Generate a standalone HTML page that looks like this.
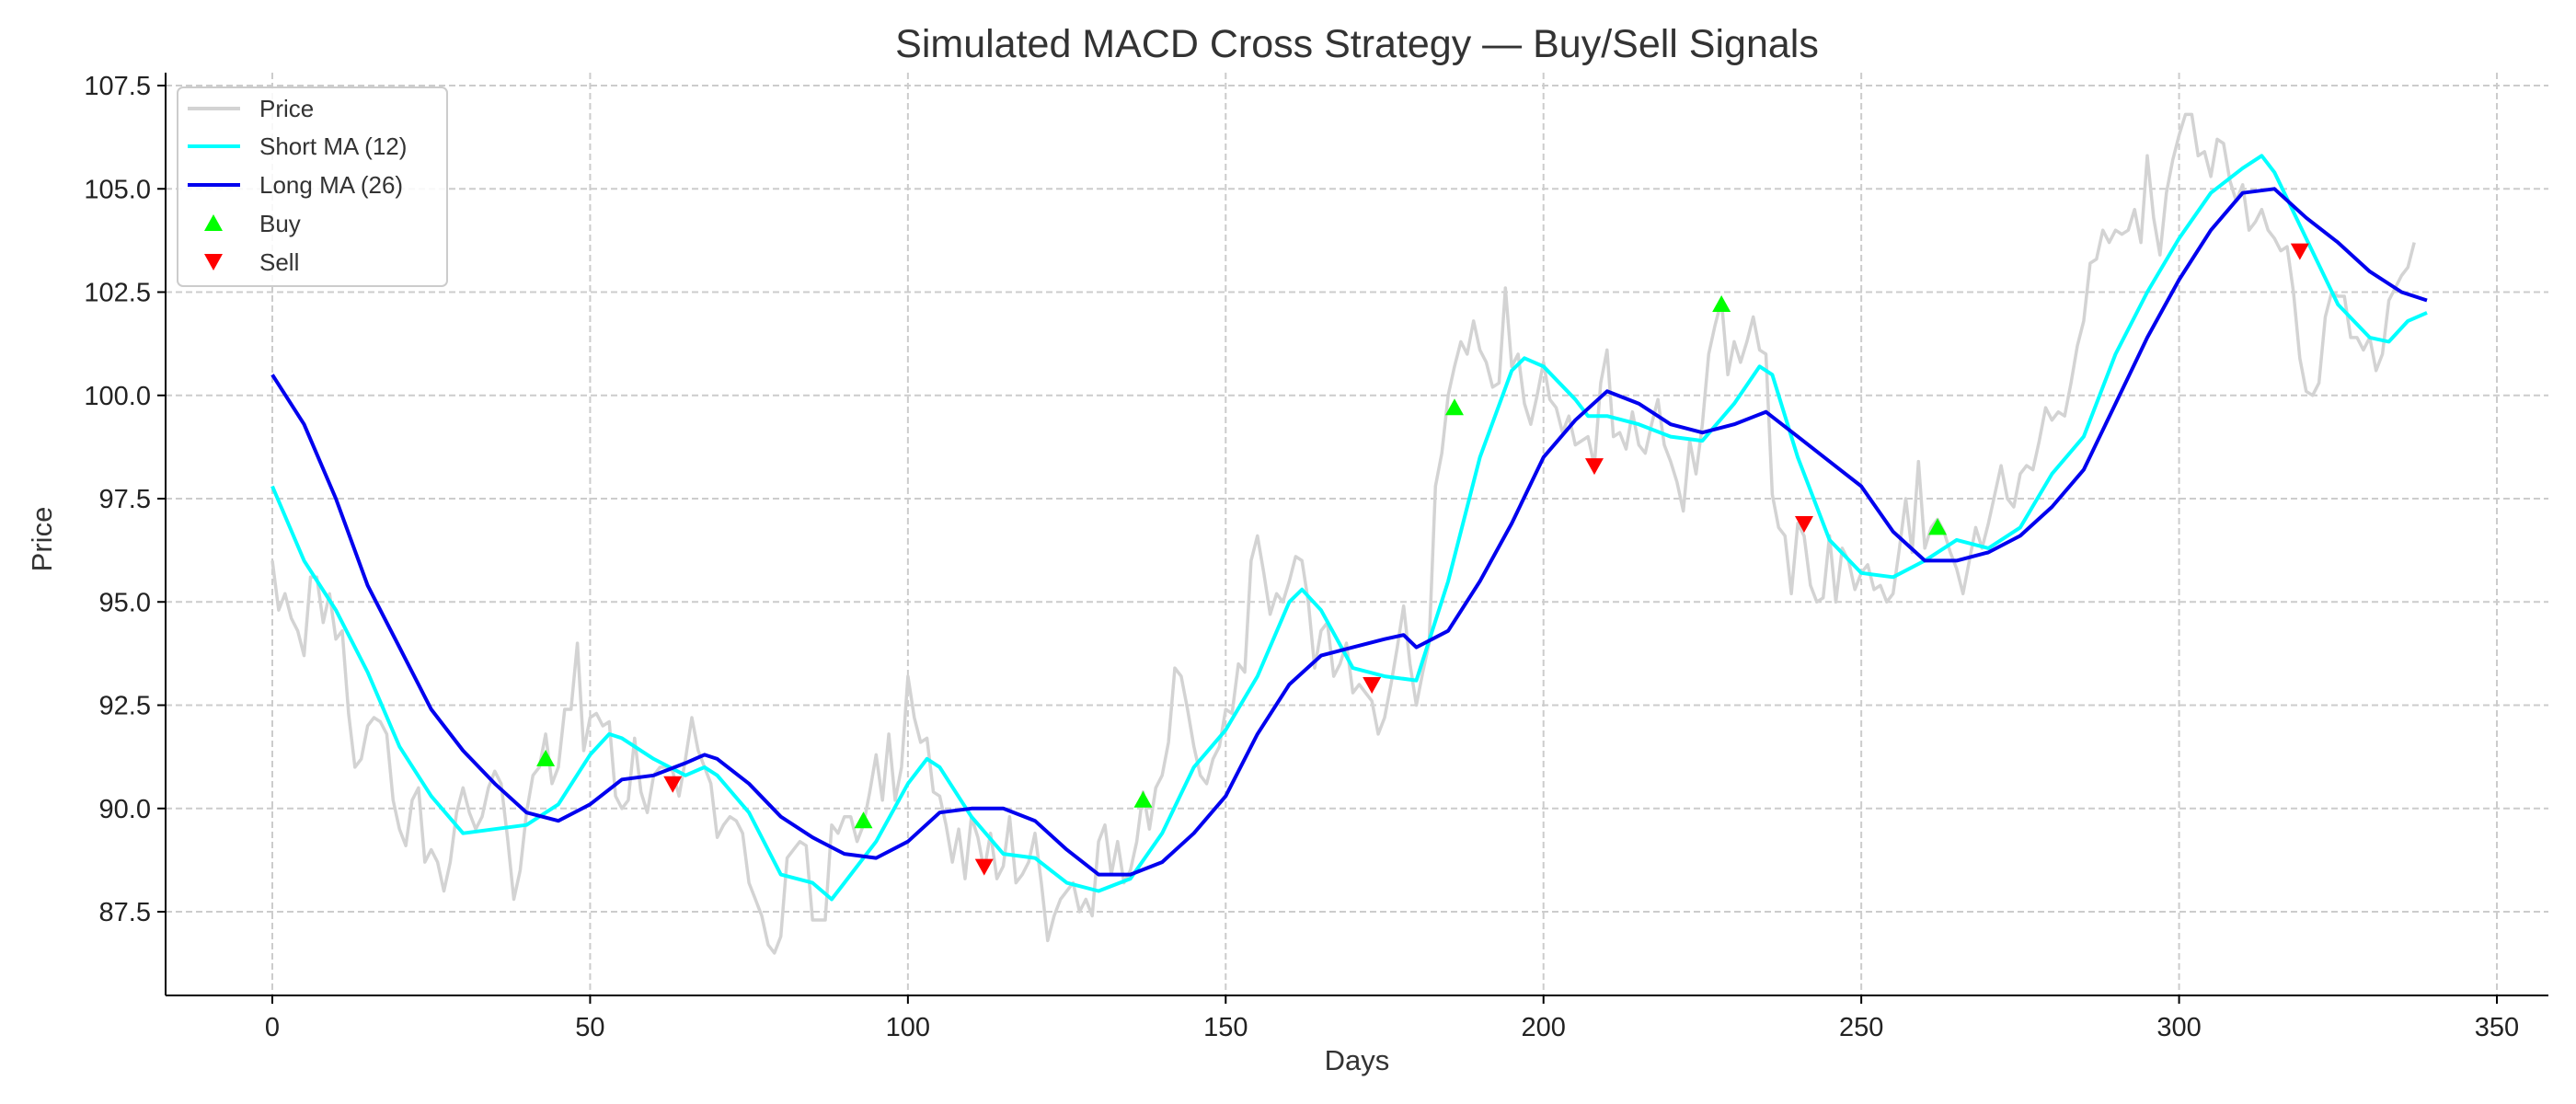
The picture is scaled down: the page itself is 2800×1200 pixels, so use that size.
<!DOCTYPE html>
<html><head><meta charset="utf-8"><style>
body{margin:0;background:#fff}
svg{display:block;font-family:"Liberation Sans","DejaVu Sans",sans-serif}
</style></head><body>
<svg id="chart" width="2800" height="1200" viewBox="0 0 2800 1200" xmlns="http://www.w3.org/2000/svg">
<rect width="2800" height="1200" fill="#fff"/>
<text x="1475" y="62" font-size="43" text-anchor="middle" fill="#333">Simulated MACD Cross Strategy — Buy/Sell Signals</text>
<g id="grid"></g><g id="series"></g><g id="axes"></g>
<text x="1475" y="1163" font-size="31" text-anchor="middle" fill="#333">Days</text>
<text transform="translate(56,586) rotate(-90)" font-size="31" text-anchor="middle" fill="#333">Price</text>
<g>
<rect x="193" y="95" width="293" height="216" rx="6" fill="#fff" fill-opacity="0.85" stroke="#ccc" stroke-width="2"/>
<line x1="204" y1="118" x2="261" y2="118" stroke="#d3d3d3" stroke-width="4"/><text x="282" y="127" font-size="26" fill="#333">Price</text>
<line x1="204" y1="159" x2="261" y2="159" stroke="#00ffff" stroke-width="4"/><text x="282" y="168" font-size="26" fill="#333">Short MA (12)</text>
<line x1="204" y1="201" x2="261" y2="201" stroke="#0000ee" stroke-width="4"/><text x="282" y="210" font-size="26" fill="#333">Long MA (26)</text>
<polygon points="232,233 242,251 222,251" fill="#00ff00"/><text x="282" y="252" font-size="26" fill="#333">Buy</text>
<polygon points="222,276 242,276 232,294" fill="#ff0000"/><text x="282" y="294" font-size="26" fill="#333">Sell</text>
</g>
</svg>
<script>
const price=[96.0,94.8,95.2,94.6,94.3,93.7,95.6,95.6,94.5,95.2,94.1,94.3,92.3,91.0,91.2,92.0,92.2,92.1,91.8,90.2,89.5,89.1,90.2,90.5,88.7,89.0,88.7,88.0,88.7,89.9,90.5,89.9,89.5,89.8,90.5,90.9,90.6,89.3,87.8,88.5,89.9,90.8,91.0,91.8,90.6,91.0,92.4,92.4,94.0,91.4,92.2,92.3,92.0,92.1,90.3,90.0,90.2,91.7,90.4,89.9,90.8,91.0,91.0,90.9,90.3,91.2,92.2,91.4,91.0,90.6,89.3,89.6,89.8,89.7,89.4,88.2,87.8,87.4,86.7,86.5,86.9,88.8,89.0,89.2,89.1,87.3,87.3,87.3,89.6,89.4,89.8,89.8,89.2,89.6,90.4,91.3,90.2,91.8,90.2,91.0,93.2,92.2,91.6,91.7,90.4,90.3,89.6,88.7,89.5,88.3,89.8,89.3,88.5,89.4,88.3,88.6,89.8,88.2,88.4,88.7,89.4,88.2,86.8,87.4,87.8,88.0,88.2,87.5,87.8,87.4,89.2,89.6,88.4,89.2,88.2,88.5,89.2,90.4,89.5,90.5,90.8,91.6,93.4,93.2,92.4,91.5,90.8,90.6,91.2,91.5,92.4,92.3,93.5,93.3,96.0,96.6,95.7,94.7,95.2,95.0,95.5,96.1,96.0,95.0,93.4,94.3,94.5,93.2,93.5,94.0,92.8,93.0,92.8,92.6,91.8,92.2,93.0,93.9,94.9,93.5,92.5,93.3,94.0,97.8,98.6,100.0,100.7,101.3,101.0,101.8,101.1,100.8,100.2,100.3,102.6,100.7,101.0,99.8,99.3,100.0,100.8,99.9,99.7,99.1,99.5,98.8,98.9,99.0,98.3,100.3,101.1,99.0,99.1,98.7,99.6,98.8,98.6,99.3,99.9,98.8,98.4,97.9,97.2,98.9,98.1,99.3,101.0,101.7,102.3,100.5,101.3,100.8,101.3,101.9,101.1,101.0,97.6,96.8,96.6,95.2,96.9,96.6,95.4,95.0,95.1,96.6,95.0,96.3,96.0,95.3,95.7,95.9,95.3,95.4,95.0,95.2,96.3,97.5,96.2,98.4,96.3,96.8,97.0,96.7,96.2,95.8,95.2,96.0,96.8,96.3,96.9,97.6,98.3,97.5,97.3,98.1,98.3,98.2,98.9,99.7,99.4,99.6,99.5,100.3,101.2,101.8,103.2,103.3,104.0,103.7,104.0,103.9,104.0,104.5,103.7,105.8,104.3,103.4,104.9,105.7,106.3,106.8,106.8,105.8,105.9,105.3,106.2,106.1,105.2,104.7,105.1,104.0,104.2,104.5,104.0,103.8,103.5,103.6,102.5,100.9,100.1,100.0,100.3,101.9,102.5,102.4,102.4,101.4,101.4,101.1,101.4,100.6,101.0,102.3,102.6,102.9,103.1,103.7];
const shortDays=[0,5,10,15,20,25,30,35,40,45,50,53,55,60,65,68,70,75,80,85,88,90,95,100,103,105,110,115,120,125,130,135,140,145,150,155,160,162,165,170,175,180,185,190,195,197,200,205,207,210,215,220,225,230,234,236,240,245,250,255,260,265,270,275,280,285,290,295,300,305,310,313,315,320,325,330,333,336,339];
const shortMA=[97.8,96.0,94.8,93.3,91.5,90.3,89.4,89.5,89.6,90.1,91.3,91.8,91.7,91.2,90.8,91.0,90.8,89.9,88.4,88.2,87.8,88.2,89.2,90.6,91.2,91.0,89.8,88.9,88.8,88.2,88.0,88.3,89.4,91.0,91.9,93.2,95.0,95.3,94.8,93.4,93.2,93.1,95.5,98.5,100.6,100.9,100.7,99.9,99.5,99.5,99.3,99.0,98.9,99.8,100.7,100.5,98.5,96.5,95.7,95.6,96.0,96.5,96.3,96.8,98.1,99.0,101.0,102.5,103.8,104.9,105.5,105.8,105.4,103.8,102.2,101.4,101.3,101.8,102.0];
const longDays=[0,5,10,15,20,25,30,35,40,45,50,55,60,65,68,70,75,80,85,90,95,100,105,110,115,120,125,130,135,140,145,150,155,160,165,170,175,178,180,185,190,195,200,205,210,215,220,225,230,235,240,245,250,255,260,265,270,275,280,285,290,295,300,305,310,315,320,325,330,335,339];
const longMA=[100.5,99.3,97.5,95.4,93.9,92.4,91.4,90.6,89.9,89.7,90.1,90.7,90.8,91.1,91.3,91.2,90.6,89.8,89.3,88.9,88.8,89.2,89.9,90.0,90.0,89.7,89.0,88.4,88.4,88.7,89.4,90.3,91.8,93.0,93.7,93.9,94.1,94.2,93.9,94.3,95.5,96.9,98.5,99.4,100.1,99.8,99.3,99.1,99.3,99.6,99.0,98.4,97.8,96.7,96.0,96.0,96.2,96.6,97.3,98.2,99.8,101.4,102.8,104.0,104.9,105.0,104.3,103.7,103.0,102.5,102.3];
const buyDays=[43,93,137,186,228,262];
const buyPrices=[91.2,89.7,90.2,99.7,102.2,96.8];
const sellDays=[63,112,173,208,241,319];
const sellPrices=[90.6,88.6,93.0,98.3,96.9,103.5];
const xTicks=[0,50,100,150,200,250,300,350];
const yTicks=[87.5,90.0,92.5,95.0,97.5,100.0,102.5,105.0,107.5];

const NS="http://www.w3.org/2000/svg";
const L=180,R=2770,B=1082,T=79;
function xs(d){return 296+d*(2714-296)/350;}
function ys(v){return 93+(107.5-v)*(991-93)/20;}
function mk(tag,attrs,parent){const e=document.createElementNS(NS,tag);for(const k in attrs)e.setAttribute(k,attrs[k]);parent.appendChild(e);return e;}
const grid=document.getElementById('grid'),ser=document.getElementById('series'),ax=document.getElementById('axes');
xTicks.forEach(t=>{
 const g=mk('line',{x1:xs(t),x2:xs(t),y1:T,y2:B,stroke:'#cccccc','stroke-width':2,'stroke-dasharray':'7,4'},grid);
 
 
 mk('line',{x1:xs(t),x2:xs(t),y1:B,y2:B+9,stroke:'#000','stroke-width':2},ax);
 const tx=mk('text',{x:xs(t),y:B+44,'font-size':29,'text-anchor':'middle',fill:'#222'},ax);
 tx.textContent=t;
 
 
});
yTicks.forEach(t=>{
 const g=mk('line',{x1:L,x2:R,y1:ys(t),y2:ys(t),stroke:'#cccccc','stroke-width':2,'stroke-dasharray':'7,4'},grid);
 
 
 mk('line',{x1:L-9,x2:L,y1:ys(t),y2:ys(t),stroke:'#000','stroke-width':2},ax);
 const tx=mk('text',{x:L-16,y:ys(t)+10,'font-size':29,'text-anchor':'end',fill:'#222'},ax);
 tx.textContent=t.toFixed(1);
 
 
});
const sp1=mk('line',{x1:L,x2:L,y1:T,y2:B,stroke:'#000','stroke-width':2},ax);


const sp2=mk('line',{x1:L,x2:R,y1:B,y2:B,stroke:'#000','stroke-width':2},ax);


function line(ds,vs,col,w,name){
 const p=mk('polyline',{points:ds.map((d,i)=>xs(d).toFixed(1)+','+ys(vs[i]).toFixed(1)).join(' '),fill:'none',stroke:col,'stroke-width':w,'stroke-linejoin':'round'},ser);
 
 
}
line(price.map((_,i)=>i),price,'#d3d3d3',3.5,'price-line');
line(shortDays,shortMA,'#00ffff',4,'short-ma-line');
line(longDays,longMA,'#0000ee',4,'long-ma-line');
buyDays.forEach((d,i)=>{const x=xs(d),y=ys(buyPrices[i]);
 const m=mk('polygon',{points:`${x},${y-10} ${x+10},${y+8} ${x-10},${y+8}`,fill:'#00ff00'},ser);
 
 });
sellDays.forEach((d,i)=>{const x=xs(d),y=ys(sellPrices[i]);
 const m=mk('polygon',{points:`${x-10},${y-8} ${x+10},${y-8} ${x},${y+10}`,fill:'#ff0000'},ser);
 
 });
</script>
</body></html>
